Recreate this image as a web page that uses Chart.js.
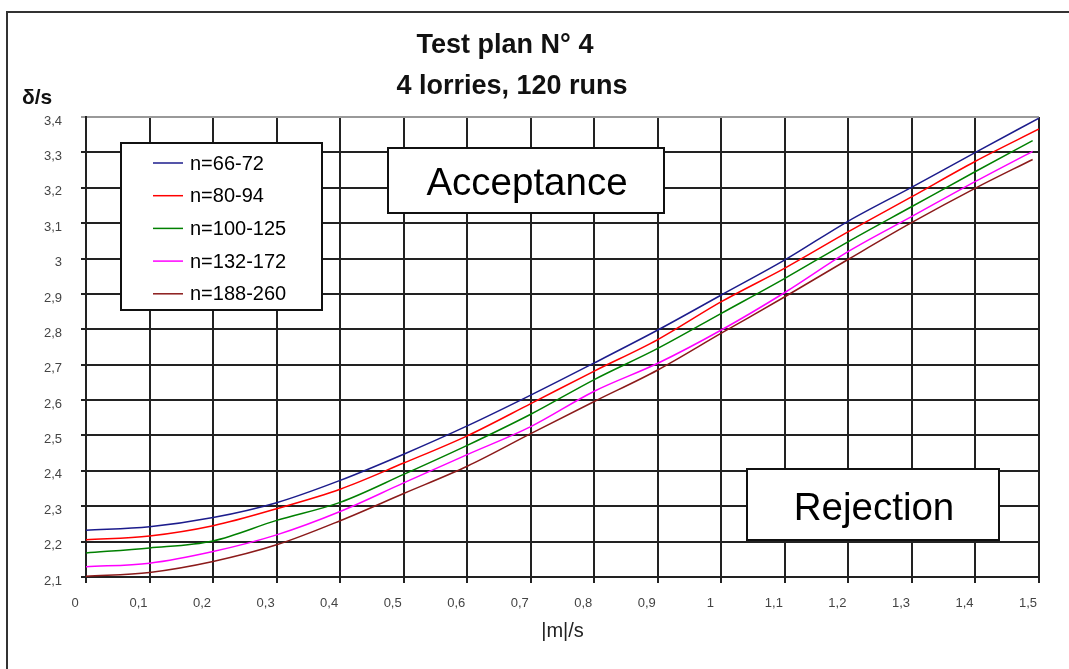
<!DOCTYPE html>
<html>
<head>
<meta charset="utf-8">
<script src="https://cdn.jsdelivr.net/npm/chart.js@4.4.0/dist/chart.umd.min.js"></script>
<style>
  body { margin: 0; background: #fff; }
  #wrapper { width: 1069px; height: 669px; }
</style>
</head>
<body>
<div id="wrapper"><canvas id="myChart" width="1069" height="669"></canvas></div>
<script>
// |m|/s positions where the curves were read
const xValues = [0, 0.1, 0.2, 0.3, 0.4, 0.5, 0.6, 0.7, 0.8, 0.9, 1.0, 1.1, 1.2, 1.3, 1.4, 1.5];

// delta/s for each sample size range
const seriesNames = ["n=66-72", "n=80-94", "n=100-125", "n=132-172", "n=188-260"];
const n66 = [2.232, 2.242, 2.268, 2.31, 2.373, 2.447, 2.527, 2.614, 2.705, 2.798, 2.897, 2.996, 3.106, 3.202, 3.3, 3.397];
const n80 = [2.205, 2.216, 2.245, 2.293, 2.348, 2.422, 2.499, 2.59, 2.682, 2.771, 2.878, 2.973, 3.076, 3.175, 3.275, 3.366];
const n100 = [2.168, 2.182, 2.202, 2.26, 2.311, 2.39, 2.472, 2.56, 2.658, 2.746, 2.845, 2.944, 3.048, 3.147, 3.246, 3.333];
const n132 = [2.129, 2.139, 2.172, 2.219, 2.285, 2.366, 2.446, 2.525, 2.625, 2.704, 2.798, 2.904, 3.02, 3.119, 3.218, 3.303];
const n188 = [2.102, 2.113, 2.144, 2.191, 2.259, 2.336, 2.413, 2.505, 2.596, 2.685, 2.789, 2.892, 2.998, 3.102, 3.199, 3.28];
// the last three curves stop a little before 1.5
const lastX = [1.5, 1.5, 1.49, 1.49, 1.49];

const colors = ["#1c1c8c", "#ff0000", "#008000", "#ff00ff", "#8b1a1a"];
const family = "'Liberation Sans', Arial, sans-serif";

const allSeries = [n66, n80, n100, n132, n188];

const datasets = allSeries.map((vals, s) => ({
  label: seriesNames[s],
  data: vals.map((v, i) => ({ x: i === vals.length - 1 ? lastX[s] : xValues[i], y: v })),
  borderColor: colors[s],
  backgroundColor: colors[s],
  borderWidth: 1.5,
  pointRadius: 0,
  fill: false,
  cubicInterpolationMode: "monotone",
}));

const fmt = (v) => String(Math.round(v * 10) / 10).replace(".", ",");

function box(c, x, y, w, h) {
  c.fillStyle = "#fff";
  c.fillRect(x, y, w, h);
  c.strokeStyle = "#111";
  c.lineWidth = 2;
  c.strokeRect(x, y, w, h);
}

// titles, frame, text boxes and legend
const decorations = {
  id: "decorations",
  afterDraw(chart) {
    const c = chart.ctx;
    c.save();
    c.strokeStyle = "#333";
    c.lineWidth = 2;
    c.beginPath();
    c.moveTo(7, 669);
    c.lineTo(7, 12);
    c.lineTo(1069, 12);
    c.stroke();

    c.fillStyle = "#111";
    c.textAlign = "center";
    c.textBaseline = "alphabetic";
    c.font = "bold 27px " + family;
    c.fillText("Test plan N° 4", 505, 53);
    c.fillText("4 lorries, 120 runs", 512, 94);

    c.textAlign = "left";
    c.font = "bold 21px " + family;
    c.fillText("δ/s", 22, 104);

    box(c, 388, 148, 276, 65);
    box(c, 747, 469, 252, 71);
    c.fillStyle = "#000";
    c.textAlign = "center";
    c.font = "38.5px " + family;
    c.fillText("Acceptance", 527, 195);
    c.fillText("Rejection", 874, 520);

    // legend
    box(c, 121, 143, 201, 167);
    c.textAlign = "left";
    c.textBaseline = "middle";
    c.font = "20px " + family;
    chart.data.datasets.forEach((ds, i) => {
      const ly = 163 + i * 32.7;
      c.strokeStyle = ds.borderColor;
      c.lineWidth = 1.5;
      c.beginPath();
      c.moveTo(153, ly);
      c.lineTo(183, ly);
      c.stroke();
      c.fillStyle = "#000";
      c.fillText(ds.label, 190, ly + 1);
    });
    c.restore();
  },
};

const options = {
  responsive: false,
  animation: false,
  layout: { padding: { left: 26, right: 30, top: 117, bottom: 0 } },
  plugins: {
    legend: { display: false },
    tooltip: { enabled: false },
  },
  scales: {
    x: {
      type: "linear",
      min: 0,
      max: 1.5,
      afterFit: (s) => { s.height = 92; },
      ticks: {
        stepSize: 0.1,
        autoSkip: false,
        maxRotation: 0,
        labelOffset: -11,
        padding: 13,
        color: "#444",
        font: { size: 13, family },
        callback: fmt,
      },
      grid: { color: "#222", lineWidth: 2, tickLength: 6 },
      border: { color: "#222", width: 2 },
      title: {
        display: true,
        text: "|m|/s",
        color: "#222",
        font: { size: 20, family },
        padding: { top: 0, bottom: 26 },
      },
    },
    y: {
      type: "linear",
      min: 2.1,
      max: 3.4,
      afterFit: (s) => { s.width = 60; },
      ticks: {
        stepSize: 0.1,
        autoSkip: false,
        labelOffset: 4,
        padding: 19,
        color: "#444",
        font: { size: 13, family },
        callback: fmt,
      },
      grid: {
        color: (ctx) => (ctx.tick && ctx.tick.value > 3.39 ? "#999" : "#222"),
        lineWidth: 2,
        tickLength: 5,
      },
      border: { color: "#222", width: 2 },
    },
  },
};

const ctx = document.getElementById("myChart").getContext("2d");
let myChart = new Chart(ctx, {
  type: "line",
  data: { datasets },
  options,
  plugins: [decorations],
});
</script>
</body>
</html>
